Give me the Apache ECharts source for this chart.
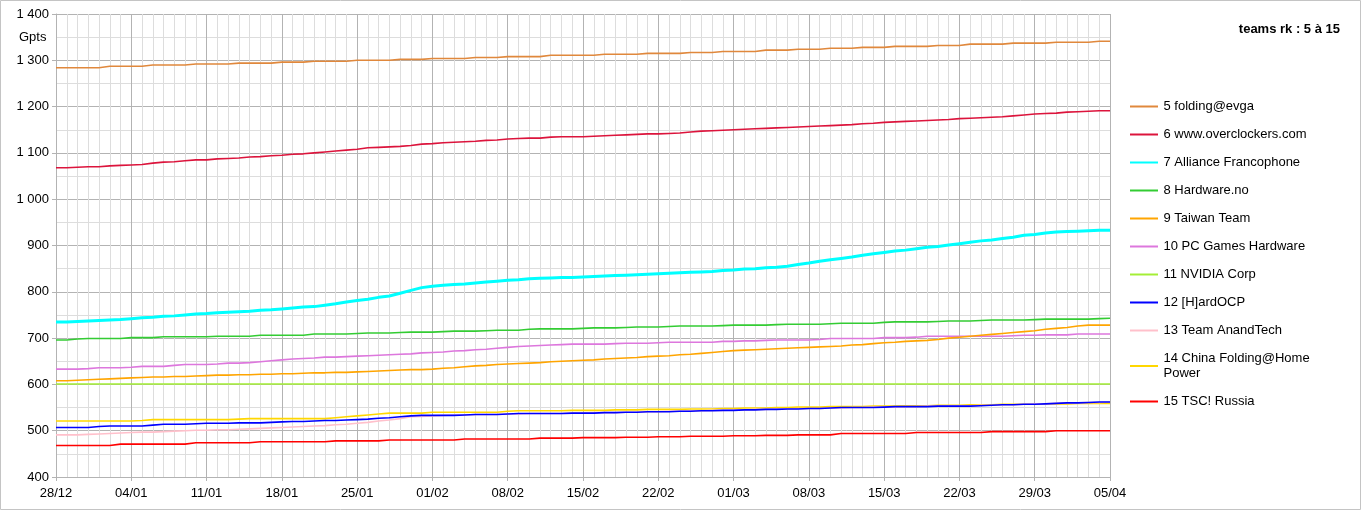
<!DOCTYPE html>
<html>
<head>
<meta charset="utf-8">
<script src="https://cdn.jsdelivr.net/npm/echarts@6/dist/echarts.min.js"></script>
<style>
html,body{margin:0;padding:0;background:#fff;}
#chart{width:1361px;height:510px;}
</style>
</head>
<body>
<div id="chart"></div>
<script>
const categories = [
"28/12","29/12","30/12","31/12",
"01/01","02/01","03/01","04/01","05/01","06/01","07/01","08/01","09/01","10/01","11/01","12/01","13/01","14/01","15/01","16/01","17/01","18/01","19/01","20/01","21/01","22/01","23/01","24/01","25/01","26/01","27/01","28/01","29/01","30/01","31/01",
"01/02","02/02","03/02","04/02","05/02","06/02","07/02","08/02","09/02","10/02","11/02","12/02","13/02","14/02","15/02","16/02","17/02","18/02","19/02","20/02","21/02","22/02","23/02","24/02","25/02","26/02","27/02","28/02",
"01/03","02/03","03/03","04/03","05/03","06/03","07/03","08/03","09/03","10/03","11/03","12/03","13/03","14/03","15/03","16/03","17/03","18/03","19/03","20/03","21/03","22/03","23/03","24/03","25/03","26/03","27/03","28/03","29/03","30/03","31/03",
"01/04","02/04","03/04","04/04","05/04"];

const seriesNames = [
"5 folding@evga","6 www.overclockers.com","7 Alliance Francophone","8 Hardware.no","9 Taiwan Team",
"10 PC Games Hardware","11 NVIDIA Corp","12 [H]ardOCP","13 Team AnandTech","14 China Folding@Home Power","15 TSC! Russia"];

const seriesColors = ["#E0883C","#DC143C","#00FFFF","#33CC33","#FFA500","#DD77DD","#A4EE36","#0000FF","#FFC0CB","#FFD700","#FF0000"];

const evga = [
1284,1284,1284,1284,1284,1287,1287,
1287,1287,1290,1290,1290,1290,1292,
1292,1292,1292,1294,1294,1294,1294,
1296,1296,1296,1298,1298,1298,1298,
1300,1300,1300,1300,1302,1302,1302,
1304,1304,1304,1304,1306,1306,1306,
1308,1308,1308,1308,1311,1311,1311,
1311,1311,1313,1313,1313,1313,1315,
1315,1315,1315,1317,1317,1317,1319,
1319,1319,1319,1322,1322,1322,1324,
1324,1324,1326,1326,1326,1328,1328,
1328,1330,1330,1330,1330,1332,1332,
1332,1335,1335,1335,1335,1337,1337,
1337,1337,1339,1339,1339,1339,1341,
1341];

const overclockers = [
1068,1068,1069,1070,1070,1072,1073,
1074,1075,1078,1080,1081,1083,1085,
1085,1087,1088,1089,1091,1092,1094,
1095,1097,1098,1100,1102,1104,1106,
1108,1111,1112,1113,1114,1116,1119,
1120,1122,1123,1124,1125,1127,1128,
1130,1131,1132,1132,1134,1135,1135,
1135,1136,1137,1138,1139,1140,1141,
1141,1142,1143,1145,1147,1148,1149,
1150,1151,1152,1153,1154,1155,1156,
1157,1158,1159,1160,1161,1163,1164,
1166,1167,1168,1169,1170,1171,1172,
1174,1175,1176,1177,1178,1180,1182,
1184,1185,1186,1188,1189,1190,1191,
1191];

const allianceFr = [
735,735,736,737,738,739,740,
742,744,745,747,748,750,752,
753,755,756,757,758,760,761,
763,765,767,768,771,774,778,
781,784,788,791,797,803,809,
812,814,816,817,819,821,823,
825,826,828,829,830,831,831,
832,833,834,835,836,837,838,
839,840,841,842,843,844,846,
847,849,850,852,853,855,859,
862,866,869,872,875,879,882,
885,888,890,893,896,898,901,
904,907,910,912,915,918,922,
924,927,929,930,931,932,933,
933];

const hardwareNo = [
696,696,698,699,699,699,699,
701,701,701,703,703,703,703,
703,704,704,704,704,706,706,
706,706,706,709,709,709,709,
710,711,711,711,712,713,713,
713,714,715,715,715,716,717,
717,717,719,720,720,720,720,
721,722,722,722,723,724,724,
724,725,726,726,726,726,727,
728,728,728,728,729,730,730,
730,730,731,732,732,732,732,
734,735,735,735,735,736,737,
737,737,738,739,739,739,739,
740,741,741,741,741,741,742,
743];

const taiwanTeam = [
608,608,609,610,611,612,613,
614,615,616,616,617,617,618,
619,620,620,621,621,622,622,
623,623,624,625,625,626,626,
627,628,629,630,631,632,632,
633,635,636,638,640,641,643,
644,645,646,647,649,650,651,
652,653,655,656,657,658,660,
661,662,664,665,667,669,671,
673,674,675,676,677,678,679,
680,681,682,683,685,686,688,
690,691,693,694,695,697,700,
702,704,706,708,710,712,714,
716,719,721,723,726,728,728,
728];

const pcGames = [
633,633,633,634,636,636,636,
637,639,639,639,641,643,643,
643,644,646,646,647,649,651,
653,655,656,657,659,659,660,
661,662,663,664,665,666,668,
669,670,672,673,675,676,678,
680,682,683,684,685,686,687,
687,687,687,688,689,689,689,
690,691,691,691,691,691,693,
693,694,694,695,696,696,696,
696,697,699,699,699,699,699,
701,701,701,702,704,704,704,
704,704,704,704,704,705,706,
706,707,707,707,709,709,709,
709];

const nvidia = [
601,601,601,601,601,601,601,
601,601,601,601,601,601,601,
601,601,601,601,601,601,601,
601,601,601,601,601,601,601,
601,601,601,601,601,601,601,
601,601,601,601,601,601,601,
601,601,601,601,601,601,601,
601,601,601,601,601,601,601,
601,601,601,601,601,601,601,
601,601,601,601,601,601,601,
601,601,601,601,601,601,601,
601,601,601,601,601,601,601,
601,601,601,601,601,601,601,
601,601,601,601,601,601,601,
601];

const hardOCP = [
507,507,507,507,509,510,510,
510,510,512,514,514,514,515,
516,516,516,517,517,517,518,
519,520,520,521,522,522,523,
524,525,527,528,530,532,533,
533,533,533,534,535,535,535,
536,537,537,537,537,537,538,
538,538,539,539,540,540,541,
541,541,542,542,543,543,544,
544,545,545,546,546,547,547,
548,548,549,550,550,550,550,
551,552,552,552,552,553,553,
553,553,554,555,556,556,557,
557,558,559,560,560,561,562,
562];

const anandTech = [
491,491,491,492,493,494,495,
496,497,497,498,499,500,501,
501,502,502,503,504,505,506,
507,508,509,510,511,513,514,
516,518,521,523,526,530,531,
532,533,534,534,535,535,535,
536,536,537,537,537,537,538,
538,539,539,539,540,540,541,
541,542,542,543,543,544,544,
545,545,546,546,547,547,548,
548,548,549,549,550,550,551,
551,551,552,552,553,553,554,
554,554,555,555,556,556,557,
558,558,559,560,560,561,561,
562];

const chinaFolding = [
521,521,521,521,521,521,521,
521,522,524,524,524,524,524,
524,524,524,525,526,526,526,
526,526,526,526,526,528,530,
532,534,536,538,538,538,538,
540,540,540,540,540,540,540,
542,543,543,543,543,543,544,
544,544,544,545,545,545,546,
546,546,546,547,547,547,548,
548,549,549,549,550,550,551,
551,551,552,552,552,552,553,
553,553,554,554,554,555,555,
555,556,556,556,557,557,557,
557,558,558,558,559,559,559,
559];

const tscRussia = [
468,468,468,468,468,468,471,
471,471,471,471,471,471,474,
474,474,474,474,474,476,476,
476,476,476,476,476,478,478,
478,478,478,480,480,480,480,
480,480,480,482,482,482,482,
482,482,482,484,484,484,484,
485,485,485,485,486,486,486,
487,487,487,488,488,488,488,
489,489,489,490,490,490,491,
491,491,491,494,494,494,494,
494,494,494,496,496,496,496,
496,496,496,498,498,498,498,
498,498,500,500,500,500,500,
500];

const seriesData = [evga, overclockers, allianceFr, hardwareNo, taiwanTeam, pcGames, nvidia, hardOCP, anandTech, chinaFolding, tscRussia];

const FONT = "'Liberation Sans', Arial, sans-serif";
const chart = echarts.init(document.getElementById('chart'), null, {renderer: 'canvas'});

function fmtThousands(v) {
  const s = String(Math.round(v));
  return s.length > 3 ? s.slice(0, s.length - 3) + ' ' + s.slice(-3) : s;
}

const xSplitColors = ['#b3b3b3','#dddddd','#dddddd','#dddddd','#dddddd','#dddddd','#dddddd'];
const LINE_ICON = 'path://M0,0H28V2H0Z';

chart.setOption({
  animation: false,
  backgroundColor: '#ffffff',
  textStyle: {fontFamily: FONT},
  title: {
    text: 'teams rk : 5 à 15',
    right: 16, top: 18,
    textStyle: {fontFamily: FONT, fontSize: 13, fontWeight: 'bold', color: '#000'}
  },
  graphic: [
    {type: 'rect', silent: true, shape: {x: 0.5, y: 0.5, width: 1360, height: 509},
     style: {fill: 'none', stroke: '#c4c4c4', lineWidth: 1}},
    {type: 'text', left: 19, top: 31, silent: true,
     style: {text: 'Gpts', fontFamily: FONT, fontSize: 13, fill: '#000'}}
  ],
  legend: {
    orient: 'vertical',
    left: 1125, top: 94,
    itemWidth: 29, itemHeight: 2, itemGap: 13,
    icon: LINE_ICON,
    data: seriesNames,
    formatter: function (name) {
      return name === '14 China Folding@Home Power' ? '14 China Folding@Home\nPower' : name;
    },
    textStyle: {fontFamily: FONT, fontSize: 13, color: '#000', lineHeight: 15},
    selectedMode: false
  },
  grid: {left: 56, right: 251, top: 14, bottom: 33, containLabel: false},
  xAxis: {
    type: 'category',
    data: categories,
    boundaryGap: false,
    axisLine: {show: true, lineStyle: {color: '#b3b3b3', width: 1}},
    axisTick: {show: true, interval: 6, length: 4, lineStyle: {color: '#b3b3b3'}},
    axisLabel: {interval: 6, color: '#000', fontFamily: FONT, fontSize: 13, margin: 10},
    splitLine: {show: true, interval: 0, lineStyle: {color: xSplitColors, width: 1}}
  },
  yAxis: {
    type: 'value',
    min: 400, max: 1400, interval: 100,
    axisLine: {show: true, lineStyle: {color: '#b3b3b3', width: 1}},
    axisTick: {show: true, length: 4, lineStyle: {color: '#b3b3b3'}},
    axisLabel: {color: '#000', fontFamily: FONT, fontSize: 13, margin: 7, formatter: fmtThousands},
    splitLine: {show: true, lineStyle: {color: '#b3b3b3', width: 1}},
    minorTick: {show: false, splitNumber: 2},
    minorSplitLine: {show: true, lineStyle: {color: '#dddddd', width: 1}}
  },
  series: seriesNames.map((n, i) => ({
    name: n,
    type: 'line',
    data: seriesData[i],
    symbol: 'none',
    showSymbol: false,
    smooth: false,
    color: seriesColors[i],
    itemStyle: {color: seriesColors[i]},
    lineStyle: {width: i === 2 ? 3 : 1.6, color: seriesColors[i]},
    z: 20 - i
  }))
});
</script>
</body>
</html>
